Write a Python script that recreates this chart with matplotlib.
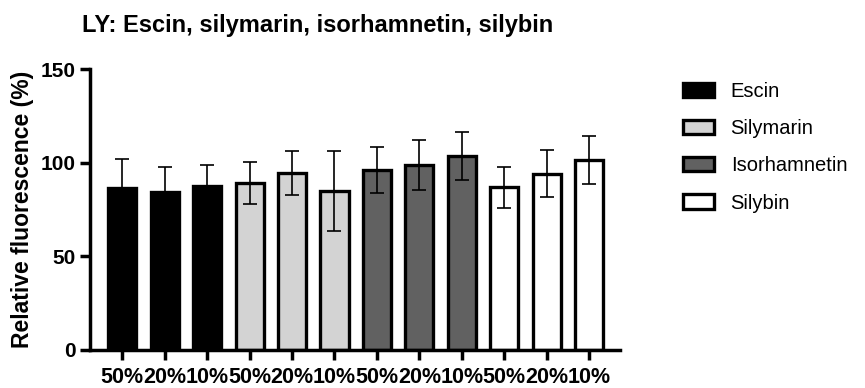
import matplotlib
matplotlib.use("Agg")
import matplotlib.pyplot as plt
from matplotlib.patches import Patch
import numpy as np

plt.rcParams['font.family'] = ['Liberation Sans', 'DejaVu Sans']

# 化合物与浓度
compounds = ['Escin', 'Silymarin', 'Isorhamnetin', 'Silybin']
concentrations = ['50%', '20%', '10%']
colors = ['#000000', '#d3d3d3', '#616161', '#ffffff']

# 相对荧光均值与误差（每组依次为 50%、20%、10%）
means = [86.5, 84.7, 87.8,
         89.4, 94.7, 85.0,
         96.4, 98.8, 103.8,
         87.0, 94.3, 101.7]
errors = [15.5, 13.0, 11.0,
          11.3, 11.8, 21.2,
          12.3, 13.3, 12.9,
          11.0, 12.5, 12.9]


def main():
    fig = plt.figure(figsize=(8.65, 3.88), dpi=100)
    ax = fig.add_axes([0.104, 0.098, 0.613, 0.723])

    x = np.arange(len(means))
    bar_colors = [c for c in colors for _ in concentrations]
    tick_labels = concentrations * len(compounds)

    ax.bar(x, means, width=0.66, color=bar_colors, edgecolor='black',
           linewidth=2.4, zorder=2)
    ax.errorbar(x, means, yerr=errors, fmt='none', ecolor='black',
                elinewidth=1.2, capsize=5, capthick=1.2, zorder=3)

    ax.set_xlim(-0.76, len(means) - 1 + 0.73)
    ax.set_ylim(0, 150)
    ax.set_yticks([0, 50, 100, 150])
    ax.set_xticks(x)
    ax.set_xticklabels(tick_labels, fontsize=15.5, fontweight='bold')
    for lab in ax.get_yticklabels():
        lab.set_fontsize(15)
        lab.set_fontweight('bold')

    for side in ['top', 'right']:
        ax.spines[side].set_visible(False)
    for side in ['left', 'bottom']:
        ax.spines[side].set_linewidth(2.5)
    ax.tick_params(axis='both', width=2.5, length=7, pad=3)
    ax.tick_params(axis='x', pad=5)

    ax.set_ylabel('Relative fluorescence (%)', fontsize=16.5,
                  fontweight='bold', labelpad=5)

    fig.text(0.367, 0.935, 'LY: Escin, silymarin, isorhamnetin, silybin',
             ha='center', va='center', fontsize=17, fontweight='bold')

    handles = [Patch(facecolor=c, edgecolor='black', linewidth=2.4)
               for c in colors]
    fig.legend(handles, compounds, loc='upper left',
               bbox_to_anchor=(0.769, 0.835), frameon=False, fontsize=14.5,
               handlelength=1.5, handleheight=0.7, handletextpad=0.85,
               labelspacing=0.9)

    fig.savefig('out.png', dpi=100)


if __name__ == '__main__':
    main()
